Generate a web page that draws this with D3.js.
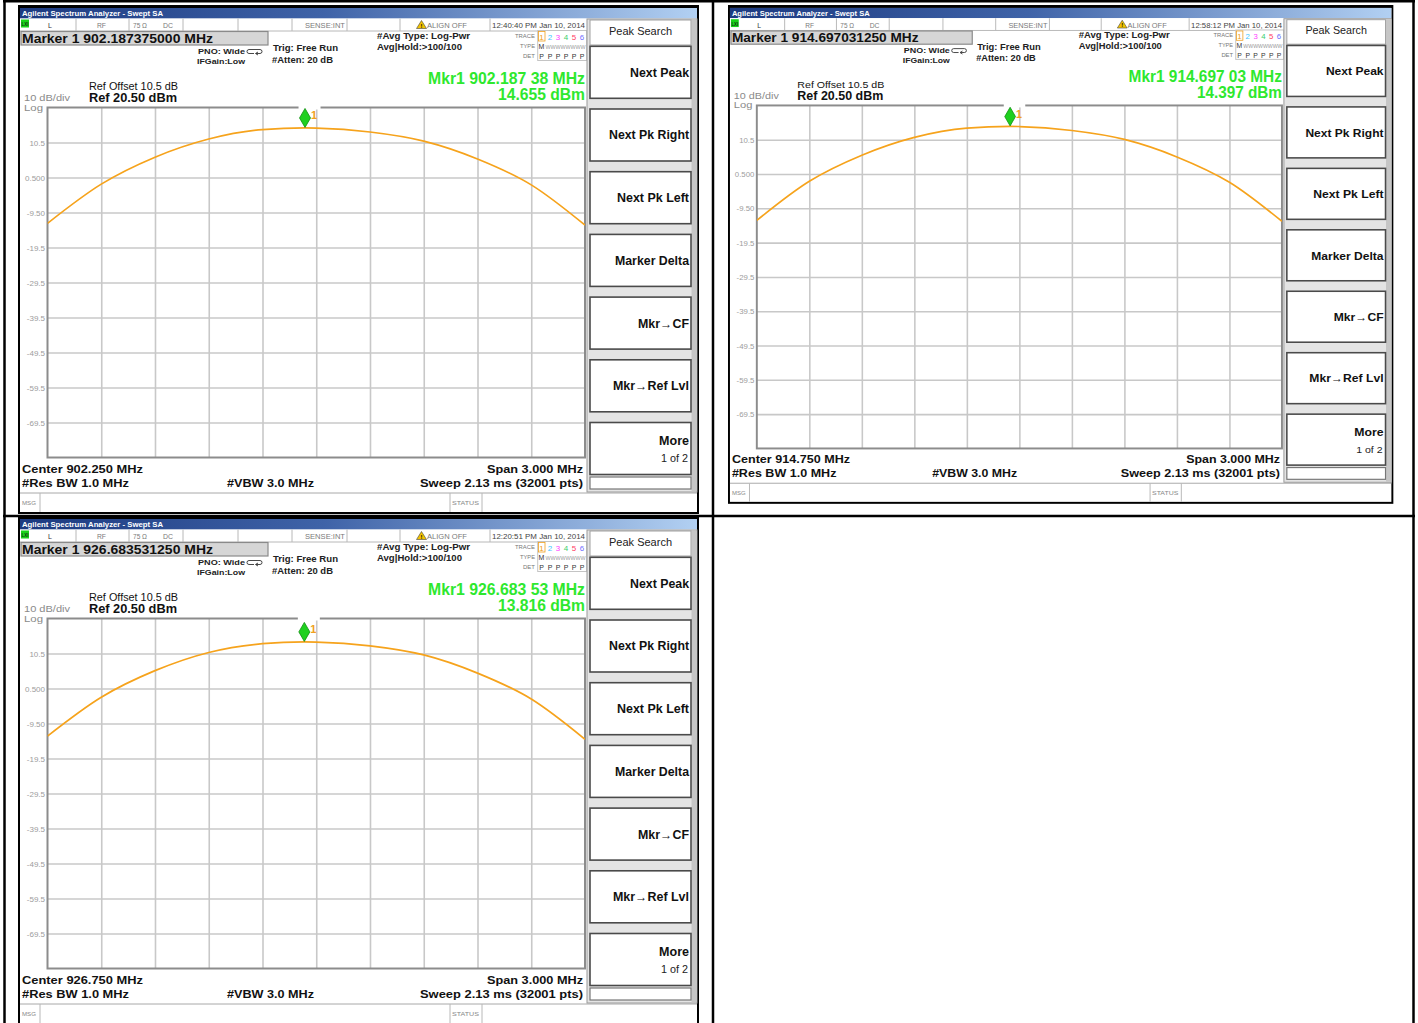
<!DOCTYPE html>
<html>
<head>
<meta charset="utf-8">
<script src="https://cdn.jsdelivr.net/npm/d3@7"></script>
<style>
  body { margin: 0; background: #fff; }
  svg { display: block; }
  text { font-family: "Liberation Sans", Arial, sans-serif; }
</style>
</head>
<body>
<svg id="chart" width="1418" height="1023"></svg>
<script>
// ---- Measurement data -------------------------------------------------
// Trace samples (MHz, dBm): one per graticule division plus the peak bin
const sweepFreq902  = [900.75, 901.05, 901.35, 901.65, 901.95, 902.187375, 902.25, 902.55, 902.85, 903.15, 903.45, 903.75];
const sweepLevel902 = [-12.6, -1.4, 6.3, 11.5, 14.2, 14.655, 14.6, 13.5, 10.9, 5.8, -1.6, -13.1];
const sweepFreq914  = [913.25, 913.55, 913.85, 914.15, 914.45, 914.69703125, 914.75, 915.05, 915.35, 915.65, 915.95, 916.25];
const sweepLevel914 = [-13.0, -1.6, 6.0, 11.2, 13.9, 14.397, 14.35, 13.2, 10.6, 5.5, -1.9, -13.3];
const sweepFreq926  = [925.25, 925.55, 925.85, 926.15, 926.45, 926.68353125, 926.75, 927.05, 927.35, 927.65, 927.95, 928.25];
const sweepLevel926 = [-13.1, -2.0, 5.6, 10.8, 13.3, 13.816, 13.77, 12.7, 10.1, 4.9, -2.5, -14.0];

const centerFreqs   = [902.25, 914.75, 926.75];
const spanMHz       = 3.0;
const markerFreqs   = [902.187375, 914.69703125, 926.68353125];
const markerLevels  = [14.655, 14.397, 13.816];
const markerTitles  = ["Marker 1 902.187375000 MHz", "Marker 1 914.697031250 MHz", "Marker 1 926.683531250 MHz"];
const markerFreqTxt = ["Mkr1 902.187 38 MHz", "Mkr1 914.697 03 MHz", "Mkr1 926.683 53 MHz"];
const markerLvlTxt  = ["14.655 dBm", "14.397 dBm", "13.816 dBm"];
const centerTxt     = ["Center 902.250 MHz", "Center 914.750 MHz", "Center 926.750 MHz"];
const timestamps    = ["12:40:40 PM Jan 10, 2014", "12:58:12 PM Jan 10, 2014", "12:20:51 PM Jan 10, 2014"];

const refLevel   = 20.5;   // dBm, top of graticule
const dbPerDiv   = 10;
const tickLevels = [10.5, 0.5, -9.5, -19.5, -29.5, -39.5, -49.5, -59.5, -69.5];
const tickLabels = ["10.5", "0.500", "-9.50", "-19.5", "-29.5", "-39.5", "-49.5", "-59.5", "-69.5"];
const softkeyLabels = ["Next Peak", "Next Pk Right", "Next Pk Left", "Marker Delta", "Mkr\u2192CF", "Mkr\u2192Ref Lvl"];
const softkeyWidths = [59, 80, 72, 74, 51, 76];

const sweeps = [
  { f: sweepFreq902, l: sweepLevel902 },
  { f: sweepFreq914, l: sweepLevel914 },
  { f: sweepFreq926, l: sweepLevel926 }
];

// ---- Page layout ------------------------------------------------------
const svg = d3.select("#chart");
const panelPos = [
  { x: 18,  y: 5,   sx: 1,     sy: 1 },
  { x: 728, y: 5,   sx: 0.977, sy: 0.98 },
  { x: 18,  y: 516, sx: 1,     sy: 1 }
];

const defs = svg.append("defs");
const grad = defs.append("linearGradient").attr("id", "titleGrad")
  .attr("x1", "0").attr("x2", "1").attr("y1", "0").attr("y2", "0");
grad.append("stop").attr("offset", "0").attr("stop-color", "#1c3a80");
grad.append("stop").attr("offset", "0.45").attr("stop-color", "#3f63a8");
grad.append("stop").attr("offset", "1").attr("stop-color", "#b2d0f2");

const PL = 29.5, PR = 567, PT = 102.5, PB = 452.5;   // graticule box in panel units

function txt(g, x, y, s, o = {}) {
  const t = g.append("text").attr("x", x).attr("y", y).text(s)
    .attr("font-size", o.size || 8)
    .attr("fill", o.fill || "#111")
    .attr("font-weight", o.bold ? "bold" : "normal")
    .attr("text-anchor", o.anchor || "start");
  if (o.len) t.attr("textLength", o.len).attr("lengthAdjust", "spacingAndGlyphs");
  return t;
}

function drawPanel(i) {
  const p = panelPos[i];
  const g = svg.append("g").attr("transform", `translate(${p.x},${p.y}) scale(${p.sx},${p.sy})`);

  // window frame
  g.append("rect").attr("x", 0).attr("y", 0).attr("width", 681).attr("height", 509).attr("fill", "#000");
  g.append("rect").attr("x", 2).attr("y", 3).attr("width", 677).attr("height", 504).attr("fill", "#fff");
  g.append("rect").attr("x", 2).attr("y", 3).attr("width", 677).attr("height", 10.3).attr("fill", "url(#titleGrad)");
  txt(g, 4, 11, "Agilent Spectrum Analyzer - Swept SA", { size: 7.5, bold: true, fill: "#fff", len: 141 });

  // status bar
  const sb = g.append("g");
  sb.append("line").attr("x1", 2).attr("x2", 569).attr("y1", 26).attr("y2", 26).attr("stroke", "#b8b8b8");
  [58, 111, 165, 220, 274, 329, 382, 472].forEach(x =>
    sb.append("line").attr("x1", x).attr("x2", x).attr("y1", 13.5).attr("y2", 26).attr("stroke", "#b8b8b8"));
  sb.append("rect").attr("x", 3).attr("y", 14.5).attr("width", 8).attr("height", 8).attr("fill", "#19d219");
  txt(sb, 3.6, 21, "LXI", { size: 5, bold: true, fill: "#113311", len: 6.8 });
  const sOpt = { size: 7, fill: "#7a7a7a" };
  txt(sb, 30, 23, "L", { ...sOpt, fill: "#333" });
  txt(sb, 79, 23, "RF", { ...sOpt, len: 9 });
  txt(sb, 115, 23, "75 \u03A9", { ...sOpt, len: 14 });
  txt(sb, 145, 23, "DC", { ...sOpt, len: 10 });
  txt(sb, 327, 23, "SENSE:INT", { ...sOpt, anchor: "end", len: 40 });
  sb.append("path").attr("d", "M403.5,15.5 L408.5,23.5 L398.5,23.5 Z").attr("fill", "#f3c300").attr("stroke", "#444").attr("stroke-width", 0.6);
  txt(sb, 403.5, 22.8, "!", { size: 6, bold: true, anchor: "middle", fill: "#111" });
  txt(sb, 409, 23, "ALIGN OFF", { ...sOpt, len: 40 });
  txt(sb, 474, 23, timestamps[i], { ...sOpt, fill: "#444", len: 93 });

  // marker readout box
  g.append("rect").attr("x", 3).attr("y", 26.5).attr("width", 247).attr("height", 13.5)
    .attr("fill", "#d6d6d6").attr("stroke", "#8a8a8a").attr("stroke-width", 1.2);
  txt(g, 4, 38, markerTitles[i], { size: 12.5, bold: true, fill: "#111", len: 191 });

  // acquisition settings
  const aOpt = { size: 8, bold: true, fill: "#222" };
  txt(g, 180, 49, "PNO: Wide", { ...aOpt, len: 47 });
  g.append("path").attr("d", "M231,44.5 h11 a2,2 0 0 1 0,4 h-4 M240,47 l-2.5,1.5 l2.5,1.5 M236,48.5 h-5 a2,2 0 0 1 0,-4")
    .attr("fill", "none").attr("stroke", "#333").attr("stroke-width", 0.9);
  txt(g, 179, 59, "IFGain:Low", { ...aOpt, len: 48 });
  txt(g, 255, 45.5, "Trig: Free Run", { ...aOpt, size: 8.5, len: 65 });
  txt(g, 254, 57.5, "#Atten: 20 dB", { ...aOpt, size: 8.5, len: 61 });
  txt(g, 359, 34, "#Avg Type: Log-Pwr", { ...aOpt, size: 8.5, len: 93 });
  txt(g, 359, 45, "Avg|Hold:>100/100", { ...aOpt, size: 8.5, len: 85 });

  // trace legend
  const tl = g.append("g");
  tl.append("rect").attr("x", 519.7).attr("y", 25.5).attr("width", 49).attr("height", 30)
    .attr("fill", "#fff").attr("stroke", "#c4c4c4");
  txt(tl, 517, 33, "TRACE", { size: 6, fill: "#777", anchor: "end", len: 20 });
  txt(tl, 517, 43, "TYPE", { size: 6, fill: "#777", anchor: "end", len: 15 });
  txt(tl, 517, 53, "DET", { size: 6, fill: "#777", anchor: "end", len: 12 });
  const digitX = [523.5, 532, 540, 548, 556, 564];
  const digitCol = ["#f0a020", "#3ec6ff", "#ff3cff", "#3ccf6e", "#ff4062", "#6e6eff"];
  tl.append("rect").attr("x", 520.5).attr("y", 26.5).attr("width", 6.5).attr("height", 9.5)
    .attr("fill", "none").attr("stroke", "#f0a020").attr("stroke-width", 0.8);
  digitX.forEach((x, k) => txt(tl, x, 34.5, String(k + 1), { size: 8, fill: digitCol[k], anchor: "middle" }));
  txt(tl, 523.5, 44, "M", { size: 7, fill: "#333", anchor: "middle" });
  txt(tl, 527.5, 43.5, "WWWWWWWW", { size: 6, fill: "#999", len: 40 });
  digitX.forEach(x => txt(tl, x, 54, "P", { size: 7, fill: "#333", anchor: "middle" }));

  // active marker readout
  txt(g, 567, 78.5, markerFreqTxt[i], { size: 16, bold: true, fill: "#2ee82e", anchor: "end", len: 157 });
  txt(g, 567, 94.5, markerLvlTxt[i], { size: 16, bold: true, fill: "#2ee82e", anchor: "end", len: 87 });

  // reference annotations
  txt(g, 71, 84.5, "Ref Offset 10.5 dB", { size: 10, fill: "#111", len: 89 });
  txt(g, 71, 97, "Ref 20.50 dBm", { size: 13, bold: true, fill: "#111", len: 88 });
  txt(g, 6, 95.5, "10 dB/div", { size: 9.5, fill: "#8a8a8a", len: 46 });
  txt(g, 6, 105.5, "Log", { size: 9, fill: "#8a8a8a", len: 19 });

  // graticule
  const x = d3.scaleLinear().domain([centerFreqs[i] - spanMHz / 2, centerFreqs[i] + spanMHz / 2]).range([PL, PR]);
  const y = d3.scaleLinear().domain([refLevel - 10 * dbPerDiv, refLevel]).range([PB, PT]);
  const vTicks = d3.range(1, 10).map(k => x.invert(PL + k * (PR - PL) / 10));

  const gy = g.append("g").attr("transform", `translate(${PL},0)`)
    .call(d3.axisLeft(y).tickValues(tickLevels).tickSize(-(PR - PL)).tickFormat((d, k) => tickLabels[k]));
  gy.select(".domain").remove();
  gy.selectAll(".tick line").attr("stroke", "#c8c8c8").attr("stroke-width", 1.6);
  gy.selectAll(".tick text").attr("x", -2.5).attr("fill", "#9c9c9c")
    .attr("font-size", 8).attr("font-family", "Liberation Sans, Arial, sans-serif");

  const gx = g.append("g").attr("transform", `translate(0,${PB})`)
    .call(d3.axisBottom(x).tickValues(vTicks).tickSize(-(PB - PT)).tickFormat(""));
  gx.select(".domain").remove();
  gx.selectAll(".tick line").attr("stroke", "#c8c8c8").attr("stroke-width", 1.6);

  g.append("rect").attr("x", PL).attr("y", PT).attr("width", PR - PL).attr("height", PB - PT)
    .attr("fill", "none").attr("stroke", "#8c8c8c").attr("stroke-width", 2);

  // trace
  const clipId = "clip" + i;
  defs.append("clipPath").attr("id", clipId).append("rect")
    .attr("x", PL).attr("y", PT).attr("width", PR - PL).attr("height", PB - PT);
  const pts = sweeps[i].f.map((f, k) => [f, sweeps[i].l[k]]);
  g.append("path").datum(pts).attr("clip-path", `url(#${clipId})`)
    .attr("d", d3.line().x(d => x(d[0])).y(d => y(d[1])).curve(d3.curveMonotoneX))
    .attr("fill", "none").attr("stroke", "#f6a31c").attr("stroke-width", 1.7);

  // marker 1
  const mx = x(markerFreqs[i]), my = y(markerLevels[i]);
  g.append("rect").attr("x", mx - 6.5).attr("y", PT - 3).attr("width", 22).attr("height", 5).attr("fill", "#fff");
  g.append("path").attr("d", `M${mx},${my - 0.5} L${mx - 5.5},${my - 10} L${mx},${my - 19.5} L${mx + 5.5},${my - 10} Z`)
    .attr("fill", "#1fd01f").attr("stroke", "#0f8f0f").attr("stroke-width", 0.8);
  txt(g, mx + 6, my - 9, "1", { size: 11, bold: true, fill: "#f0a020" });

  // sweep settings
  const bOpt = { size: 11.5, bold: true, fill: "#111" };
  txt(g, 4, 467.5, centerTxt[i], { ...bOpt, len: 121 });
  txt(g, 4, 481.5, "#Res BW 1.0 MHz", { ...bOpt, len: 107 });
  txt(g, 209, 481.5, "#VBW 3.0 MHz", { ...bOpt, len: 87 });
  txt(g, 565, 467.5, "Span 3.000 MHz", { ...bOpt, anchor: "end", len: 96 });
  txt(g, 565, 481.5, "Sweep  2.13 ms (32001 pts)", { ...bOpt, anchor: "end", len: 163 });

  // message / status bar
  g.append("line").attr("x1", 2).attr("x2", 679).attr("y1", 488).attr("y2", 488).attr("stroke", "#a8a8a8");
  [22, 432, 464].forEach(xx =>
    g.append("line").attr("x1", xx).attr("x2", xx).attr("y1", 488).attr("y2", 507).attr("stroke", "#b8b8b8"));
  txt(g, 4, 500, "MSG", { size: 5.5, fill: "#888", len: 14 });
  txt(g, 434, 500, "STATUS", { size: 5.5, fill: "#888", len: 27 });

  // softkey menu
  const sk = g.append("g");
  sk.append("rect").attr("x", 569).attr("y", 14).attr("width", 110).attr("height", 473)
    .attr("fill", "#e4e4e4").attr("stroke", "#9a9a9a");
  sk.append("rect").attr("x", 673.5).attr("y", 14.5).attr("width", 5.5).attr("height", 472).attr("fill", "#c6c6c6");
  sk.append("rect").attr("x", 572).attr("y", 15).attr("width", 101).attr("height", 25)
    .attr("fill", "#fff").attr("stroke", "#a0a0a0");
  txt(sk, 622.5, 30, "Peak Search", { size: 11, fill: "#222", anchor: "middle", len: 63 });
  const keyTops = d3.range(7).map(k => 41.3 + k * 62.7);
  keyTops.forEach(t => sk.append("rect").attr("x", 572).attr("y", t).attr("width", 101).attr("height", 52)
    .attr("fill", "#fff").attr("stroke", "#4a4a4a").attr("stroke-width", 1.6));
  softkeyLabels.forEach((s, k) =>
    txt(sk, 671, keyTops[k] + 30.4, s, { size: 12, bold: true, fill: "#111", anchor: "end", len: softkeyWidths[k] }));
  txt(sk, 671, keyTops[6] + 22.5, "More", { size: 12, bold: true, fill: "#111", anchor: "end", len: 30 });
  txt(sk, 670, keyTops[6] + 39.5, "1 of 2", { size: 10, fill: "#222", anchor: "end", len: 27 });
  sk.append("rect").attr("x", 572).attr("y", 472).attr("width", 101).attr("height", 12)
    .attr("fill", "#fff").attr("stroke", "#777").attr("stroke-width", 1.2);
}

[0, 1, 2].forEach(drawPanel);

// surrounding table rules
const rule = (x1, y1, x2, y2) => svg.append("line").attr("x1", x1).attr("y1", y1).attr("x2", x2).attr("y2", y2)
  .attr("stroke", "#000").attr("stroke-width", 2.5);
rule(3, 1.2, 1415, 1.2);
rule(4.5, 0, 4.5, 1023);
rule(713, 0, 713, 1023);
rule(1413.5, 0, 1413.5, 1023);
rule(3, 516, 1415, 516);
</script>
</body>
</html>
